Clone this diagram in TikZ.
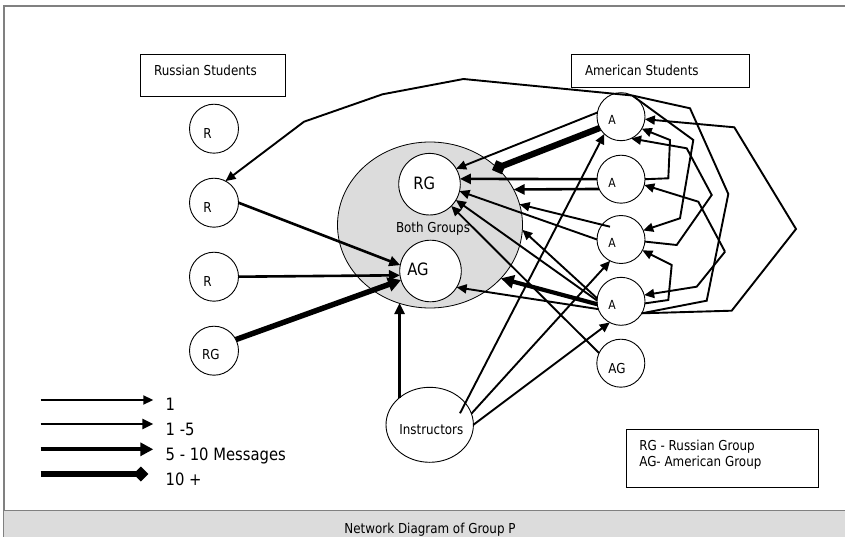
\documentclass[tikz,border=0pt]{standalone}
\usepackage{fontspec}
\setmainfont{DejaVu Sans}[FakeStretch=0.87]
\usetikzlibrary{arrows.meta,calc,shapes.geometric}
\newcommand\fsz[1]{\fontsize{#1}{#1}\selectfont}
\definecolor{panel}{HTML}{DCDCDC}
\definecolor{frame}{HTML}{808080}
\tikzset{
  every node/.style={inner sep=0pt,outer sep=0pt},
  circ/.style={draw,circle,line width=0.9pt,fill=white,minimum size=49pt},
  acirc/.style={draw,circle,line width=0.9pt,fill=white,minimum size=48pt},
  icirc/.style={draw,circle,line width=0.9pt,fill=white,minimum size=61.6pt},
  boxnode/.style={draw,line width=1pt,rectangle},
  lbl/.style={anchor=base west,font=\fsz{13.7}},
  albl/.style={anchor=base west,font=\fsz{12.5}},
  c0/.style={line width=1.9pt,line join=miter},
  c1/.style={line width=1.9pt,line join=miter,-{Triangle[length=10pt,width=9pt]}},
  c2/.style={line width=2.6pt,-{Triangle[length=11pt,width=10pt]}},
  c3/.style={line width=4.2pt,-{Triangle[length=13pt,width=13pt]}},
  c3b/.style={line width=5.5pt,-{Triangle[length=13pt,width=14pt]}},
  c4/.style={line width=6.3pt,-{Diamond[length=15pt,width=15pt]}},
}
\begin{document}
\begin{tikzpicture}[x=1pt,y=-1pt]
\useasboundingbox (0,0) rectangle (845,537);
% frame and bottom panel
\draw[frame,line width=1.5pt] (845,6) -- (4,6) -- (4,537);
\fill[panel] (4,510.7) rectangle (845,537);
\draw[frame,line width=1.2pt] (4,510.7) -- (845,510.7);
\node[anchor=base,font=\fsz{13.7}] (title) at (430,533) {Network Diagram of Group P};

% heading boxes
\node[boxnode,minimum width=145pt,minimum height=42pt] (rsbox) at (212.5,76) {};
\node[lbl] (rstext) at (154,75.3) {Russian Students};
\node[boxnode,minimum width=178pt,minimum height=33pt] (asbox) at (660,71.5) {};
\node[lbl] (astext) at (585,75.3) {American Students};

% both groups ellipse
\node[draw,ellipse,line width=0.8pt,fill=panel,minimum width=185pt,minimum height=166pt] (both) at (430,225) {};
\node[lbl] (bothtext) at (396,232.7) {Both Groups};
\node[icirc] (rg) at (429.5,184.2) {};
\node[anchor=base west,font=\fsz{17}] (rgt) at (413.3,189.3) {RG};
\node[icirc] (ag) at (430.5,271) {};
\node[anchor=base west,font=\fsz{17}] (agt) at (407.3,275.3) {AG};

% russian circles
\node[circ] (r1) at (214,128.7) {};
\node[lbl] (r1t) at (203.3,138.3) {R};
\node[circ] (r2) at (214,202.7) {};
\node[lbl] (r2t) at (203.3,212.3) {R};
\node[circ] (r3) at (214,276.7) {};
\node[lbl] (r3t) at (203.3,286.3) {R};
\node[circ] (rgl) at (214,350.7) {};
\node[lbl] (rglt) at (202,359.6) {RG};

% american circles
\node[acirc] (a1) at (621,116.7) {};
\node[albl] (a1t) at (608.3,125) {A};
\node[acirc] (a2) at (621,179.2) {};
\node[albl] (a2t) at (608.3,187.5) {A};
\node[acirc] (a3) at (621,239.5) {};
\node[albl] (a3t) at (608.3,247.8) {A};
\node[acirc] (a4) at (621,301.3) {};
\node[albl] (a4t) at (608.3,309.6) {A};
\node[acirc] (agr) at (620.8,363.2) {};
\node[lbl] (agrt) at (608.3,373.3) {AG};

% instructors
\node[draw,ellipse,line width=0.9pt,fill=white,minimum width=87.4pt,minimum height=75pt] (inst) at (429.7,424.8) {};
\node[lbl] (instt) at (399.3,434.3) {Instructors};

% legend box
\node[boxnode,minimum width=191.6pt,minimum height=58.3pt] (lgbox) at (722.5,458.2) {};
\node[lbl] (lg1) at (639.3,450.7) {RG - Russian Group};
\node[lbl] (lg2) at (639.3,466.7) {AG- American Group};

% legend arrows
\coordinate (k1a) at (40.7,400); \coordinate (k1b) at (153.3,400);
\coordinate (k2a) at (40.7,424); \coordinate (k2b) at (153.3,424);
\coordinate (k3a) at (40.7,449.3); \coordinate (k3b) at (153.3,449.3);
\coordinate (k4a) at (40.7,474); \coordinate (k4b) at (148.3,474);
\draw[c1] (k1a) -- (k1b);
\draw[c2] (k2a) -- (k2b);
\draw[c3] (k3a) -- (k3b);
\draw[c4] (k4a) -- (k4b);
\node[anchor=base west,font=\fsz{17}] (k1t) at (165.7,410.7) {1};
\node[anchor=base west,font=\fsz{17}] (k2t) at (165.7,435.7) {1 -5};
\node[anchor=base west,font=\fsz{17}] (k3t) at (165.7,460.7) {5 - 10 Messages};
\node[anchor=base west,font=\fsz{17}] (k4t) at (165.7,485.7) {10 +};

% left side connectors
\draw[c1] (a1.62) -- (463.5,79) -- (382.5,94.3) -- (304,121.7) -- (r2.62);
\draw[c2] (r2.east) -- (ag.169);
\draw[c2] (r3.east) -- (ag.188);
\draw[c3b] (rgl.27) -- (ag.197);
\draw[c2] (inst.138.5) -- (inst.138.5 |- both.248.6);

% instructors to americans
\draw[c1] ($(inst.center)+(30.3,-11.5)$) -- (a1.226);
\draw[c1] ($(inst.center)+(42,-11.5)$) -- (a3.243);
\draw[c1] (inst.east) -- (a4.242);

% americans to the middle
\draw[c1] (agr.155) -- (rg.-45);
\draw[c1] (a1.170) -- (rg.30);
\draw[c4] (a1.208) -- ($(both.center)+(62,-55)$);
\draw[c2] (a2.west) -- (rg.10);
\draw[c2] (a2.204) -- (both.23);
\draw[c1] ($(a3.center)+(-11,-12.8)$) -- (both.13.3);
\draw[c1] (a3.west) -- (rg.-13);
\draw[c1] (a4.173) -- (both.-3);
\draw[c1] (a4.178) -- (rg.-31);
\draw[c3] (a4.187) -- (both.-37.5);
\draw[c1] (a4.199) -- (ag.-32);

% right side loops
\draw[c1] (a4.-30) -- (731.7,310.7) -- (796,229) -- (734.3,127.3) -- (a1.-6);
\draw[c1] (a2.east) -- (668.3,178.3) -- (670,140) -- (a1.-30);
\draw[c1] (a1.62) -- (693.3,140) -- (680,218.3) -- (a3.22);
\draw[c1] (a3.-5) -- (676.7,245) -- (711.7,195) -- (686.7,148.3) -- (a1.-65);
\draw[c0] (a1.62) -- (690,108.3) -- (728.3,194) -- (706.7,300.7) -- (a4.-30);
\draw[c1] (a4.-5) -- (668.3,300) -- (671.7,265) -- (a3.-27);
\draw[c1] (725,251.7) -- (698.3,201.7) -- (a2.-14);
\draw[c1] (725,251.7) -- (696.7,286.7) -- (a4.15);
\end{tikzpicture}
\end{document}
